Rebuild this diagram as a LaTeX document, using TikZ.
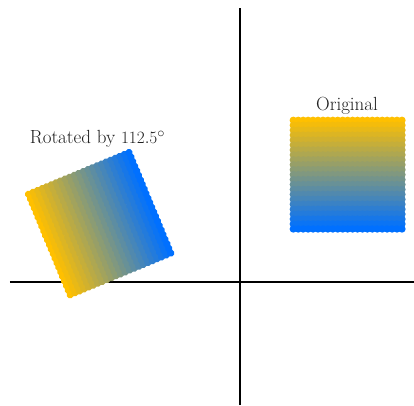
\documentclass[tikz,border=0pt]{standalone}
\usepackage{xcolor}
\begin{document}
\begin{tikzpicture}[x=1pt,y=1pt]
\definecolor{topColor}{RGB}{255,192,0}
\definecolor{bottomColor}{RGB}{0,112,255}
\definecolor{textColor}{gray}{0.12}
\path[use as bounding box] (-240,-123) rectangle (174,282);

% axes
\coordinate (xLeft) at (-230,0);
\coordinate (xRight) at (174,0);
\coordinate (yBottom) at (0,-123);
\coordinate (yTop) at (0,274);
\draw[line width=1.2pt] (xLeft) -- (xRight);
\draw[line width=1.2pt] (yBottom) -- (yTop);

% dot grid, original and rotated
\foreach \i in {0,...,22} {
  \pgfmathsetmacro{\pct}{100*\i/22}
  \colorlet{dotColor}{bottomColor!\pct!topColor}
  \foreach \j in {0,...,22} {
    \fill[dotColor] ({53.3+4.94*\j},{161.7-4.94*\i}) circle (3.7);
    \fill[dotColor,rotate=112.5] ({53.3+4.94*\j},{161.7-4.94*\i}) circle (3.7);
  }
}

\node[text=textColor,font=\fontsize{19}{23}\selectfont] (origLabel) at (107,176) {Original};
\node[text=textColor,font=\fontsize{19}{23}\selectfont] (rotLabel) at (-142.5,143) {Rotated by $112.5^\circ$};
\end{tikzpicture}
\end{document}
